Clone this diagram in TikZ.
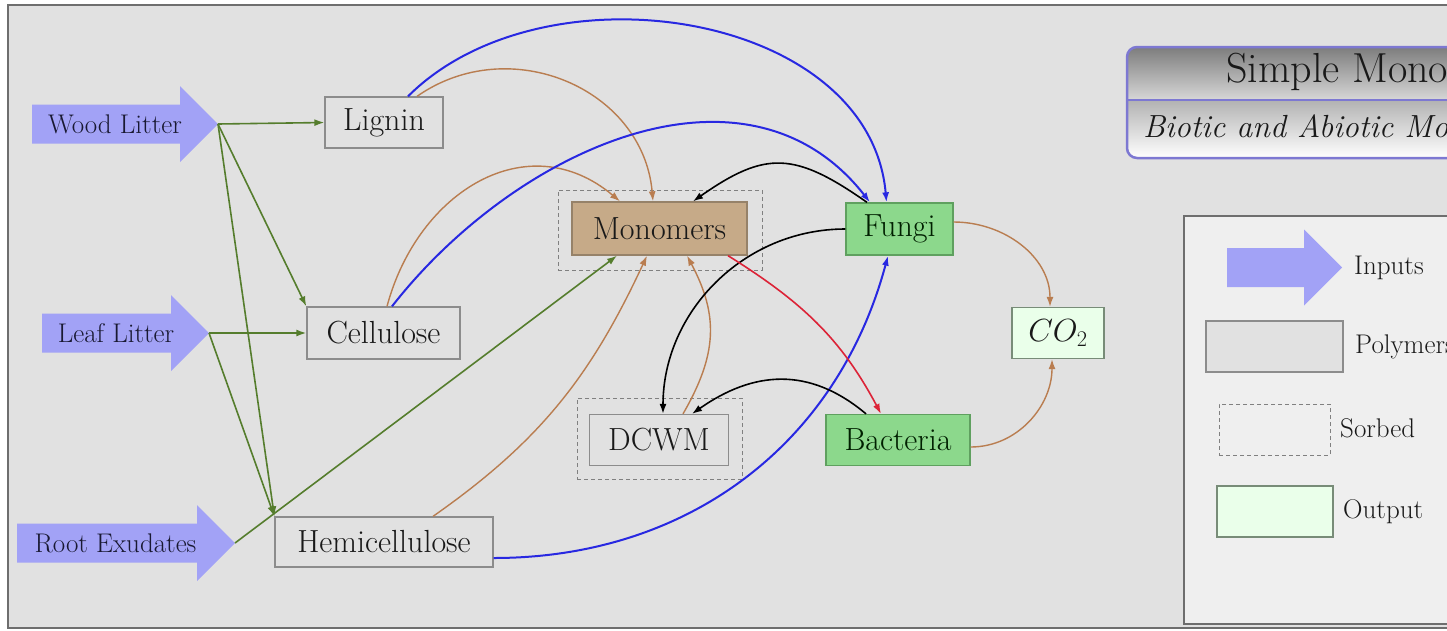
\RequirePackage{fix-cm}
\documentclass[tikz,border=0pt]{standalone}
\usetikzlibrary{arrows.meta}
\definecolor{bgc}{RGB}{225,225,225}
\definecolor{framec}{RGB}{110,110,110}
\definecolor{boxborder}{RGB}{140,140,140}
\definecolor{inputc}{RGB}{162,162,246}
\definecolor{monoc}{RGB}{198,170,136}
\definecolor{monoborder}{RGB}{150,130,105}
\definecolor{microc}{RGB}{140,216,140}
\definecolor{microborder}{RGB}{95,160,95}
\definecolor{outc}{RGB}{234,255,234}
\definecolor{outborder}{RGB}{120,140,120}
\definecolor{greenc}{RGB}{85,125,45}
\definecolor{brownc}{RGB}{185,125,80}
\definecolor{bluec}{RGB}{40,40,225}
\definecolor{redc}{RGB}{220,35,55}
\definecolor{legbg}{RGB}{239,239,239}
\definecolor{titleborder}{RGB}{125,120,210}
\definecolor{textc}{RGB}{25,25,25}
\definecolor{labelc}{RGB}{25,25,50}
\tikzset{
 pool/.style={draw=boxborder, fill=bgc, line width=1.3pt, inner sep=0pt, text=textc, font=\fontsize{32}{38}\selectfont},
 sorbed/.style={draw=gray, dash pattern=on 4pt off 3pt, line width=0.9pt, inner sep=0pt},
 monobox/.style={pool, fill=monoc, draw=monoborder},
 microbe/.style={pool, fill=microc, draw=microborder, text=green!12!black},
 outbox/.style={pool, fill=outc, draw=outborder},
 inlabel/.style={font=\fontsize{27}{32}\selectfont, text=labelc, inner sep=0pt},
 leglabel/.style={font=\fontsize{27}{32}\selectfont, text=textc, inner sep=0pt, anchor=west},
 flow/.style={line width=1.6pt, -{Latex[length=10pt,width=7pt]}},
 gflow/.style={flow, draw=greenc},
 bflow/.style={flow, draw=brownc, line width=1.4pt},
 uflow/.style={flow, draw=bluec, line width=2pt},
 kflow/.style={flow, draw=black},
 rflow/.style={flow, draw=redc},
}
\newcommand\myinput[4]{%
 \fill[inputc] (#2,#4-19.5) -- (#3-38,#4-19.5) -- (#3-38,#4-38) -- (#3,#4) -- (#3-38,#4+38) -- (#3-38,#4+19.5) -- (#2,#4+19.5) -- cycle;
 \coordinate (#1) at (#3,#4);}
\begin{document}
\begin{tikzpicture}[x=1pt,y=-1pt]
\useasboundingbox (0,0) rectangle (1447,630);
\clip (0,0) rectangle (1447,630);
\fill[white] (0,0) rectangle (1447,630);
\draw[fill=bgc, draw=framec, line width=2pt] (8,5) rectangle (1490,628);

% inputs
\myinput{wood}{32}{218}{124}
\myinput{leaf}{42}{209}{333}
\myinput{root}{17}{235}{543}
\node[inlabel] (woodlabel) at (115,124) {Wood Litter};
\node[inlabel] (leaflabel) at (116,333) {Leaf Litter};
\node[inlabel] (rootlabel) at (115.5,543) {Root Exudates};

% pools
\node[pool, minimum width=118pt, minimum height=51pt] (lig) at (384,122.5) {Lignin};
\node[pool, minimum width=153pt, minimum height=52pt] (cel) at (383.5,333) {Cellulose};
\node[pool, minimum width=218pt, minimum height=50pt] (hem) at (384,542) {Hemicellulose};
\node[sorbed, minimum width=204pt, minimum height=80pt] (monoS) at (660,230) {};
\node[monobox, minimum width=175pt, minimum height=53pt] (mono) at (659.5,228.5) {Monomers};
\node[sorbed, minimum width=165pt, minimum height=81pt] (dcwmS) at (659.5,438.5) {};
\node[pool, minimum width=139pt, minimum height=51pt] (dcwm) at (659,440) {DCWM};
\node[microbe, minimum width=107pt, minimum height=52pt] (fungi) at (899.5,229) {Fungi};
\node[microbe, minimum width=144pt, minimum height=51pt] (bact) at (898,440) {Bacteria};
\node[outbox, minimum width=92pt, minimum height=51pt] (co2) at (1058,333) {$CO_2$};

% green input flows
\draw[gflow] (wood) -- (lig.west);
\draw[gflow] (wood) -- (cel.north west);
\draw[gflow] (wood) -- (hem.north west);
\draw[gflow] (leaf) -- (cel.west);
\draw[gflow] (leaf) -- (hem.north west);
\draw[gflow] (root) -- ([xshift=-42.5pt]mono.south);

% brown flows to monomers
\draw[bflow] ([xshift=33pt]lig.north) to[out=35,in=95,looseness=1.12] ([xshift=-6.5pt]mono.north);
\draw[bflow] ([xshift=3.5pt]cel.north) to[out=75,in=140,looseness=1.2] ([xshift=-39.5pt]mono.north);
\draw[bflow] ([xshift=49pt]hem.north) to[out=35,in=-115] ([xshift=-12.5pt]mono.south);
\draw[bflow] ([xshift=24pt]dcwm.north) to[out=60,in=-62,looseness=1.1] ([xshift=27.5pt]mono.south);
\draw[bflow] ([yshift=7pt]fungi.east) to[out=0,in=90] ([xshift=-8pt]co2.north);
\draw[bflow] ([yshift=-7pt]bact.east) to[out=0,in=-90] ([xshift=-6pt]co2.south);

% blue flows to fungi
\draw[uflow] ([xshift=24pt]lig.north) to[out=45,in=95,looseness=1.0] ([xshift=-13pt]fungi.north);
\draw[uflow] ([xshift=8.5pt]cel.north) to[out=52,in=128,looseness=1.05] ([xshift=-29.5pt]fungi.north);
\draw[uflow] ([yshift=-16pt]hem.east) to[out=0,in=-105] ([xshift=-11.5pt]fungi.south);

% black flows
\draw[kflow] ([xshift=-32.5pt]fungi.north) to[out=145,in=35,looseness=1.3] ([xshift=33.5pt]mono.north);
\draw[kflow] (fungi.west) to[out=180,in=90] ([xshift=4pt]dcwm.north);
\draw[kflow] ([xshift=-32pt]bact.north) to[out=140,in=35,looseness=1.1] ([xshift=33pt]dcwm.north);

% red flow
\draw[rflow] ([xshift=68.5pt]mono.south) to[out=-32,in=118] ([xshift=-17pt]bact.north);

% title box
\begin{scope}
\clip[rounded corners=10pt] (1127,47) rectangle (1600,158);
\shade[top color={rgb,255:red,125;green,125;blue,125}, bottom color={rgb,255:red,215;green,215;blue,215}] (1127,47) rectangle (1600,100);
\shade[top color={rgb,255:red,178;green,178;blue,178}, bottom color=white] (1127,100) rectangle (1600,158);
\end{scope}
\draw[draw=titleborder, line width=2.5pt, rounded corners=10pt] (1127,47) rectangle (1600,158);
\draw[draw=titleborder, line width=2pt] (1127,100) -- (1600,100);
\node[anchor=base west, inner sep=0pt, text=textc, font=\fontsize{42}{50}\selectfont] (title) at (1226,82) {Simple Monomer Model};
\node[anchor=base west, inner sep=0pt, text=textc, font=\fontsize{32}{38}\selectfont\itshape] (subtitle) at (1143,137) {Biotic and Abiotic Model};

% legend
\draw[fill=legbg, draw=framec, line width=1.6pt] (1184,216) rectangle (1600,624);
\myinput{leginput}{1227}{1342}{267.5}
\node[leglabel] (legin) at (1354,268) {Inputs};
\node[pool, minimum width=137pt, minimum height=51pt] (legpoly) at (1274.5,346.5) {};
\node[leglabel] (legpolyt) at (1355,347) {Polymers};
\node[sorbed, minimum width=111pt, minimum height=51pt] (legsorb) at (1274.5,429.5) {};
\node[leglabel] (legsorbt) at (1340,428) {Sorbed};
\node[outbox, minimum width=116pt, minimum height=51pt] (legout) at (1275,511.5) {};
\node[leglabel] (legoutt) at (1343,512) {Output};
\end{tikzpicture}
\end{document}
